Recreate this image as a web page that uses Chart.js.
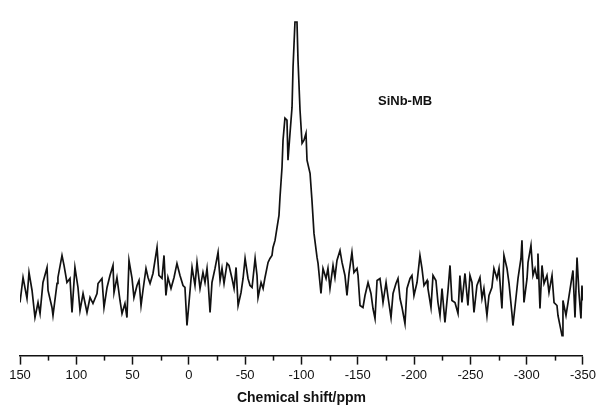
<html>
<head>
<meta charset="UTF-8">
<title>SiNb-MB 29Si NMR</title>
<script src="https://cdn.jsdelivr.net/npm/chart.js"></script>
<style>
  body { margin: 0; background: #fff; }
  #wrap { width: 599px; height: 410px; }
</style>
</head>
<body>
<div id="wrap"><canvas id="nmr" width="599" height="410"></canvas></div>
<script>
// chemical shift (ppm), left to right
const shift = [150, 147.3, 143.8, 142.0, 139.3, 136.7, 134.0, 132.2, 129.6, 126.0, 125.1, 121.6, 120.7, 117.1, 116.3, 112.7, 110.9, 108.3, 105.6, 103.8,
  101.2, 98.5, 96.7, 94.0, 90.5, 87.8, 85.2, 81.6, 80.7, 77.2, 75.4, 72.7, 70.1, 67.4, 66.5, 63.9, 61.2, 59.4, 56.8, 55.0,
  53.2, 50.5, 48.8, 46.1, 44.3, 42.5, 40.8, 38.1, 36.3, 34.5, 31.9, 28.3, 26.6, 23.9, 22.1, 20.4, 18.6, 15.9, 13.2, 10.6,
  7.9, 5.2, 3.5, 1.7, -0.1, -2.8, -5.4, -7.2, -9.9, -12.5, -14.3, -16.1, -17.0, -18.8, -20.5, -23.2, -25.9, -27.7, -29.4, -31.2,
  -33.9, -35.6, -38.3, -40.1, -41.9, -43.7, -46.3, -48.1, -49.9, -52.5, -54.3, -56.1, -58.8, -60.5, -61.4, -64.1, -65.9, -67.6, -70.3, -72.0,
  -73.8, -74.7, -76.5, -78.3, -80.0, -80.9, -82.7, -83.6, -85.3, -87.1, -88.0, -89.8, -91.6, -92.5, -94.2, -96.0, -96.9, -98.7, -100.5, -102.2,
  -104.0, -104.9, -107.6, -109.3, -111.1, -113.8, -114.7, -117.3, -119.1, -121.8, -123.5, -125.3, -128.0, -129.7, -131.5, -134.2, -136.0, -138.6, -140.4, -142.2,
  -144.8, -146.6, -149.3, -150.2, -152.0, -154.6, -156.4, -159.1, -161.7, -163.5, -165.3, -167.1, -169.7, -171.5, -172.4, -175.1, -176.9, -179.5, -181.3, -183.9,
  -185.7, -187.5, -189.3, -191.9, -193.7, -196.4, -198.1, -199.9, -202.6, -205.2, -207.0, -208.8, -211.5, -212.3, -215.0, -216.8, -219.4, -221.2, -223.0, -224.8,
  -227.4, -230.1, -231.9, -233.6, -236.3, -239.0, -240.7, -242.5, -245.2, -247.8, -249.6, -251.4, -253.2, -255.8, -258.5, -260.3, -262.0, -264.7, -266.5, -269.1,
  -270.9, -273.6, -275.4, -278.0, -279.8, -282.5, -284.3, -286.9, -287.8, -290.5, -292.3, -294.9, -295.8, -297.6, -300.3, -301.2, -303.8, -305.6, -307.4, -309.2,
  -310.0, -311.8, -313.6, -315.4, -318.0, -319.8, -322.5, -324.3, -326.9, -327.8, -329.6, -331.4, -332.2, -334.9, -336.7, -339.3, -341.1, -342.9, -344.7, -346.4,
  -348.2, -349.1, -350];

// intensity (arbitrary units), same order as shift
const intensity = [-12, 13, -8, 18, 0, -27, -12, -23, 8, 23, 0, -17, -25, 7, 13, 35, 25, 8, 12, -22,
  23, 3, -20, -3, -22, -7, -13, -3, 7, 12, -17, 3, 15, 25, -2, 13, -10, -23, -13, -27,
  30, 12, -7, 5, 10, -15, 0, 22, 13, 7, 17, 43, 15, 12, 35, -5, 13, 2, 13, 27,
  15, 5, 3, -35, -12, 23, 5, 28, 2, 18, 8, 22, 10, -22, 8, 22, 38, 10, 22, 7,
  27, 25, 12, 2, 23, -15, -2, 12, 32, 12, 5, 3, 32, 15, -7, 8, 2, 13, 28, 32,
  35, 43, 50, 63, 75, 93, 123, 150, 172, 170, 130, 157, 183, 223, 268, 268, 230, 180, 147, 150,
  157, 130, 117, 90, 57, 33, 27, -3, 22, 12, 22, 2, 25, 13, 30, 40, 28, 15, -5, 17,
  38, 18, 22, 15, -15, -17, -5, 8, -3, -18, -28, 10, 12, -3, -12, 8, -7, -27, -3, 7,
  12, -8, -17, -33, 2, 12, 15, -5, 8, 35, 22, 5, 10, 2, -17, 15, 10, -12, -25, 2,
  -32, 0, 25, -10, -12, -23, 15, -12, 17, -15, 15, 8, -22, 5, 13, -8, 2, -25, -5, 3,
  22, 12, 22, -18, 35, 22, 7, -23, -35, -7, 12, 32, 50, -12, 12, 28, 45, 15, 22, 12,
  37, -18, 25, 7, 15, -2, 15, -12, -15, -25, -35, -45, -10, -25, -12, 7, 20, -27, 33, -2,
  -28, 5, -10];

const majorTicks = [150, 100, 50, 0, -50, -100, -150, -200, -250, -300, -350];
const minorTicks = [125, 75, 25, -25, -75, -125, -175, -225, -275, -325];
const sampleName = 'SiNb-MB';
const sampleLabelAt = { x: -192, y: 189 };

const points = shift.map((s, i) => ({ x: s, y: intensity[i] }));

// minor ticks + sample label, placed through the chart's own scales
const extras = {
  id: 'extras',
  afterDraw(chart) {
    const ctx = chart.ctx;
    const xs = chart.scales.x, ys = chart.scales.y;
    const y0 = chart.chartArea.bottom;
    ctx.save();
    ctx.strokeStyle = '#111';
    ctx.lineWidth = 1.5;
    minorTicks.forEach(v => {
      const px = Math.round(xs.getPixelForValue(v)) + 0.5;
      ctx.beginPath();
      ctx.moveTo(px, y0);
      ctx.lineTo(px, y0 + 5);
      ctx.stroke();
    });
    ctx.fillStyle = '#111';
    ctx.font = 'bold 13px "Liberation Sans", Arial, sans-serif';
    ctx.textAlign = 'center';
    ctx.textBaseline = 'middle';
    ctx.fillText(sampleName, xs.getPixelForValue(sampleLabelAt.x), ys.getPixelForValue(sampleLabelAt.y));
    ctx.restore();
  }
};

const ctx = document.getElementById('nmr').getContext('2d');
new Chart(ctx, {
  type: 'line',
  data: {
    datasets: [{
      data: points,
      borderColor: '#111',
      borderWidth: 1.7,
      pointRadius: 0,
      tension: 0,
      fill: false
    }]
  },
  options: {
    responsive: false,
    animation: false,
    layout: { padding: { left: 20, right: 16, top: 15, bottom: 3 } },
    plugins: { legend: { display: false }, tooltip: { enabled: false } },
    scales: {
      x: {
        type: 'linear',
        reverse: true,
        min: -350,
        max: 150,
        afterBuildTicks: scale => { scale.ticks = majorTicks.map(v => ({ value: v })); },
        ticks: {
          color: '#111',
          padding: 3,
          maxRotation: 0,
          font: { family: '"Liberation Sans", Arial, sans-serif', size: 13 }
        },
        grid: { drawOnChartArea: false, drawTicks: true, tickLength: 9, tickColor: '#111', tickWidth: 1.5 },
        border: { display: true, color: '#111', width: 1.5 },
        title: {
          display: true,
          text: 'Chemical shift/ppm',
          color: '#111',
          padding: { top: 4, bottom: 0 },
          font: { family: '"Liberation Sans", Arial, sans-serif', size: 14, weight: 'bold' }
        }
      },
      y: {
        display: false,
        min: -65,
        max: 275
      }
    }
  },
  plugins: [extras]
});
</script>
</body>
</html>
